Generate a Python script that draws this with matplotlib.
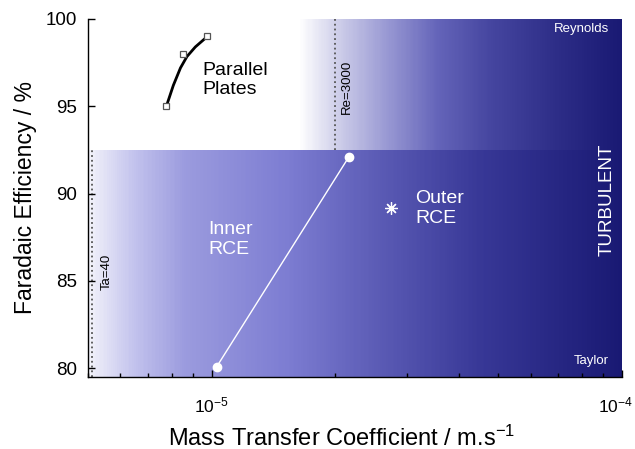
import numpy as np
import matplotlib
matplotlib.use("Agg")
import matplotlib.pyplot as plt
import matplotlib.transforms as mtransforms
from matplotlib.colors import LinearSegmentedColormap
from matplotlib.ticker import LogLocator, FixedLocator, NullFormatter

plt.rcParams['font.family'] = ['Liberation Sans', 'DejaVu Sans']
plt.rcParams['mathtext.fontset'] = 'custom'
plt.rcParams['mathtext.rm'] = 'Liberation Sans'
plt.rcParams['mathtext.it'] = 'Liberation Sans'
plt.rcParams['mathtext.default'] = 'regular'

# parallel plates data + fitted curve
pp_k = [7.76e-6, 8.5e-6, 9.77e-6]
pp_fe = [95.0, 98.0, 99.0]
pp_fit_k = [7.76e-6, 8.07e-6, 8.40e-6, 8.71e-6, 9.13e-6, 9.55e-6, 9.77e-6]
pp_fit_fe = [95.0, 96.2, 97.2, 97.85, 98.4, 98.8, 99.0]

# inner / outer RCE
inner_k = [1.03e-5, 2.16e-5]
inner_fe = [80.1, 92.1]
outer_k = [2.73e-5]
outer_fe = [89.15]

# regime boundaries
ta40_k = 5.1e-6
re3000_k = 2.0e-5
regime_fe = 92.5
upper_start_k = 1.63e-5

xmin, xmax = 5e-6, 1e-4
ymin, ymax = 79.5, 100

navy = (25/255, 25/255, 115/255)
low_cmap = LinearSegmentedColormap.from_list("low", [
    (0.00, (242/255, 242/255, 250/255)),
    (0.09, (192/255, 192/255, 236/255)),
    (0.18, (155/255, 155/255, 222/255)),
    (0.37, (125/255, 125/255, 210/255)),
    (0.55, (90/255, 90/255, 180/255)),
    (0.74, (55/255, 55/255, 150/255)),
    (1.00, navy)])
up_cmap = LinearSegmentedColormap.from_list("up", [
    (0.00, (1, 1, 1)),
    (0.11, (210/255, 210/255, 235/255)),
    (0.28, (150/255, 150/255, 210/255)),
    (0.43, (100/255, 100/255, 185/255)),
    (0.59, (70/255, 70/255, 160/255)),
    (0.80, (45/255, 45/255, 135/255)),
    (1.00, navy)])

fig = plt.figure(figsize=(6.35, 4.49), dpi=100)
ax = fig.add_axes([88/635, 1 - 377/449, 534/635, 358/449])
ax.set_xscale('log')
ax.set_xlim(xmin, xmax)
ax.set_ylim(ymin, ymax)

# gradient backgrounds
edges = np.logspace(np.log10(xmin), np.log10(xmax), 400)
centers = np.sqrt(edges[:-1] * edges[1:])
frac = (np.log10(centers) - np.log10(xmin)) / (np.log10(xmax) - np.log10(xmin))
ax.pcolormesh(edges, [ymin, regime_fe], frac[None, :], cmap=low_cmap,
              vmin=0, vmax=1, shading='flat', zorder=0)

edges_u = np.logspace(np.log10(upper_start_k), np.log10(xmax), 300)
centers_u = np.sqrt(edges_u[:-1] * edges_u[1:])
frac_u = (np.log10(centers_u) - np.log10(upper_start_k)) / (np.log10(xmax) - np.log10(upper_start_k))
ax.pcolormesh(edges_u, [regime_fe, ymax], frac_u[None, :], cmap=up_cmap,
              vmin=0, vmax=1, shading='flat', zorder=0)

# boundary lines
ax.plot([ta40_k, ta40_k], [ymin, regime_fe], ls=':', color='#555555', lw=1.3, zorder=1)
ax.plot([re3000_k, re3000_k], [regime_fe, ymax], ls=':', color='#555555', lw=1.3, zorder=1)

# data
ax.plot(pp_fit_k, pp_fit_fe, color='black', lw=2, zorder=3)
ax.plot(pp_k, pp_fe, ls='none', marker='s', ms=5, mfc='white', mec='#555555', mew=0.9, zorder=4)
ax.plot(inner_k, inner_fe, color='white', lw=1, marker='o', ms=6, mfc='white', mec='white', zorder=3)
ax.plot(outer_k, outer_fe, ls='none', marker=(8, 2, 0), ms=9, color='white', mew=0.9, zorder=3)

# annotations
ax.text(9.5e-6, 96.5, "Parallel\nPlates", fontsize=14, color='black', ha='left', va='center', linespacing=1.2)
ax.text(9.83e-6, 87.37, "Inner\nRCE", fontsize=14, color='white', ha='left', va='center', linespacing=1.2)
ax.text(3.13e-5, 89.14, "Outer\nRCE", fontsize=14, color='white', ha='left', va='center', linespacing=1.2)
ax.text(5.55e-6, 85.5, "Ta=40", fontsize=9.5, rotation=90, ha='center', va='center', color='black')
ax.text(2.14e-5, 96.1, "Re=3000", fontsize=9.5, rotation=90, ha='center', va='center', color='black')
ax.text(9.3e-5, 99.43, "Reynolds", fontsize=9.5, color='white', ha='right', va='center')
ax.text(9.3e-5, 80.4, "Taylor", fontsize=9.5, color='white', ha='right', va='center')
ax.text(9.2e-5, 89.66, "TURBULENT", fontsize=13.5, rotation=90, color='white', ha='center', va='center')

# axes styling
for s in ['top', 'right']:
    ax.spines[s].set_visible(False)
for s in ['left', 'bottom']:
    ax.spines[s].set_linewidth(1.0)
    ax.spines[s].set_zorder(5)

ax.xaxis.set_major_locator(FixedLocator([1e-5, 1e-4]))
ax.xaxis.set_major_formatter(plt.FuncFormatter(lambda v, p: r"10$^{%d}$" % round(np.log10(v))))
ax.xaxis.set_minor_locator(LogLocator(base=10, subs=np.arange(2, 10)))
ax.xaxis.set_minor_formatter(NullFormatter())
ax.set_yticks([80, 85, 90, 95, 100])
ax.tick_params(axis='both', which='major', direction='in', length=5, width=1.0, labelsize=13.5, pad=8)
ax.tick_params(axis='x', which='minor', direction='in', length=3, width=1.0)
ax.tick_params(axis='x', which='major', labelsize=12.5, pad=13)

ax.set_ylabel("Faradaic Efficiency / %", fontsize=16.5, labelpad=6)
ax.set_xlabel("Mass Transfer Coefficient / m.s$^{-1}$", fontsize=17, labelpad=6)
ax.xaxis.set_label_coords(0.474, -0.135)

fig.canvas.draw()
# nudge the 10^-4 label left so it stays inside the figure
last = ax.xaxis.get_majorticklabels()[-1]
last.set_transform(last.get_transform() + mtransforms.ScaledTranslation(-6/100, 0, fig.dpi_scale_trans))

fig.savefig("out.png", dpi=100)
